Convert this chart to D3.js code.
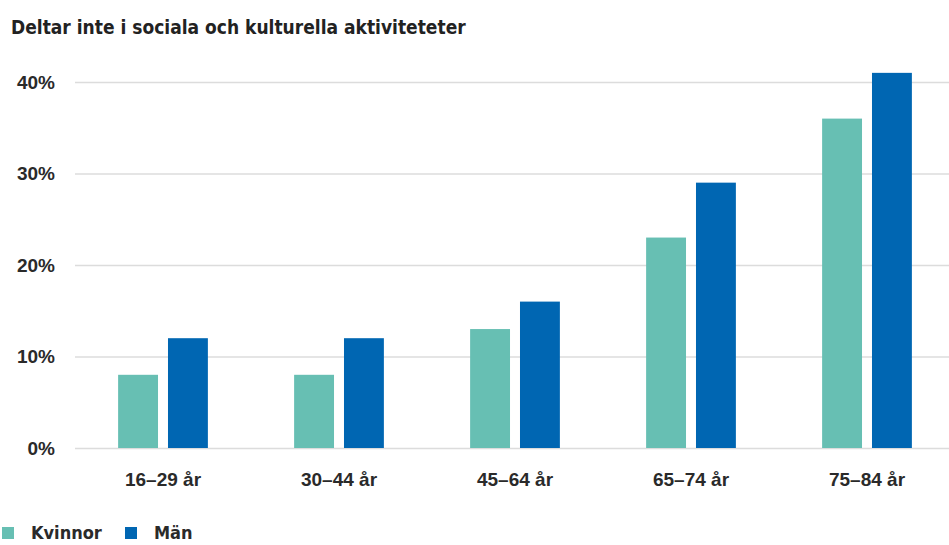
<!DOCTYPE html>
<html>
<head>
<meta charset="utf-8">
<script src="https://cdn.jsdelivr.net/npm/d3@7"></script>
<style>
  body { margin: 0; background: #fff; }
  svg { display: block; font-family: "DejaVu Sans Condensed", "Roboto", sans-serif; }
</style>
</head>
<body>
<div id="chart"></div>
<script>
// data
var categories = ["16\u201329 år", "30\u201344 år", "45\u201364 år", "65\u201374 år", "75\u201384 år"];
var series = ["Kvinnor", "Män"];
var kvinnor = [8, 8, 13, 23, 36];
var man = [12, 12, 16, 29, 41];
var yTicks = [0, 10, 20, 30, 40];
var colors = ["#67bfb3", "#0066b2"];

var width = 949, height = 545;
var margin = {top: 82, right: -6, bottom: 97, left: 75};

var svg = d3.select("#chart").append("svg")
    .attr("width", width)
    .attr("height", height);

// title
svg.append("text")
    .attr("x", 11)
    .attr("y", 34)
    .attr("font-size", 19)
    .attr("font-weight", "bold")
    .attr("fill", "#222")
    .text("Deltar inte i sociala och kulturella aktiviteteter");

var x0 = d3.scaleBand()
    .domain(categories)
    .range([margin.left, width - margin.right])
    .paddingInner(0.49)
    .paddingOuter(0.245);

var x1 = d3.scaleBand()
    .domain(series)
    .range([0, x0.bandwidth()])
    .paddingInner(0.2);

var y = d3.scaleLinear()
    .domain([0, 40])
    .range([height - margin.bottom, margin.top]);

// gridlines + y labels
var yAxis = svg.append("g")
    .attr("transform", "translate(" + margin.left + ",0)")
    .call(d3.axisLeft(y)
        .tickValues(yTicks)
        .tickSize(-(width - margin.left))
        .tickPadding(20)
        .tickFormat(function(d) { return d + "%"; }));

yAxis.select(".domain").remove();
yAxis.selectAll(".tick line")
    .attr("stroke", "#dcdcdc")
    .attr("stroke-width", 1.5);
yAxis.selectAll(".tick text")
    .attr("font-size", 19)
    .attr("font-weight", "bold")
    .attr("fill", "#2a2a2a")
    .attr("font-family", "inherit");

// bars
var rows = categories.map(function(c, i) {
    return {cat: c, values: [kvinnor[i], man[i]]};
});

var groups = svg.selectAll("g.grp")
    .data(rows)
    .enter().append("g")
    .attr("class", "grp")
    .attr("transform", function(d) { return "translate(" + x0(d.cat) + ",0)"; });

groups.selectAll("rect")
    .data(function(d) {
        return d.values.map(function(v, j) { return {key: series[j], value: v, idx: j}; });
    })
    .enter().append("rect")
    .attr("x", function(d) { return x1(d.key); })
    .attr("width", x1.bandwidth())
    .attr("y", function(d) { return y(d.value); })
    .attr("height", function(d) { return y(0) - y(d.value); })
    .attr("fill", function(d) { return colors[d.idx]; });

// x labels
var xAxis = svg.append("g")
    .attr("transform", "translate(0," + y(0) + ")")
    .call(d3.axisBottom(x0).tickSize(0).tickPadding(25));
xAxis.select(".domain").remove();
xAxis.selectAll(".tick text")
    .attr("font-size", 19)
    .attr("font-weight", "bold")
    .attr("fill", "#2a2a2a")
    .attr("font-family", "inherit");

// legend
var legend = svg.append("g").attr("transform", "translate(0,539)");
var legendX = [2, 125];
series.forEach(function(s, i) {
    var g = legend.append("g").attr("transform", "translate(" + legendX[i] + ",0)");
    g.append("rect")
        .attr("x", 0).attr("y", -12)
        .attr("width", 12).attr("height", 12)
        .attr("fill", colors[i]);
    g.append("text")
        .attr("x", 29).attr("y", 0)
        .attr("font-size", 18)
        .attr("font-weight", "bold")
        .attr("fill", "#2a2a2a")
        .text(s);
});
</script>
</body>
</html>
